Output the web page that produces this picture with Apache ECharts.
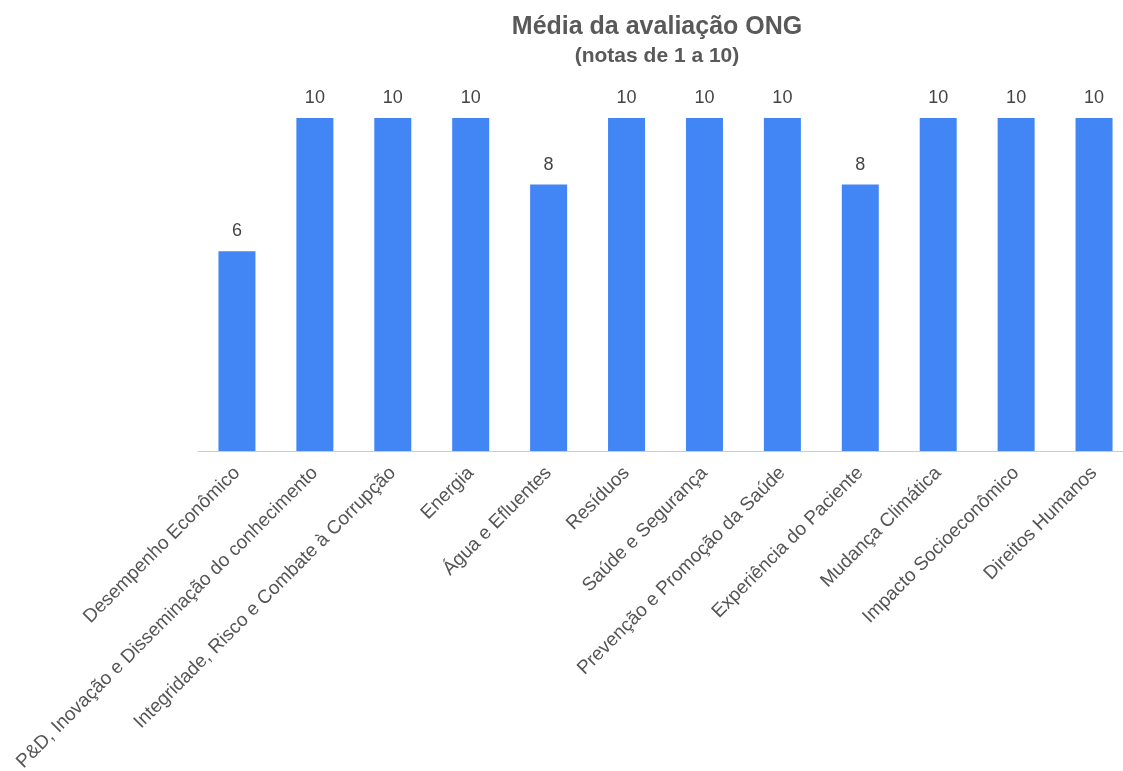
<!DOCTYPE html>
<html><head><meta charset="utf-8">
<script src="https://cdn.jsdelivr.net/npm/echarts@6/dist/echarts.min.js"></script>
<style>html,body{margin:0;padding:0;background:#fff}#c{width:1123px;height:771px}</style>
</head><body><div id="c"></div>
<script>
const categories = ["Desempenho Econômico","P&D, Inovação e Disseminação do conhecimento","Integridade, Risco e Combate à Corrupção","Energia","Água e Efluentes","Resíduos","Saúde e Segurança","Prevenção e Promoção da Saúde","Experiência do Paciente","Mudança Climática","Impacto Socioeconômico","Direitos Humanos"];
const values = [6,10,10,10,8,10,10,10,8,10,10,10];
const titleText = "Média da avaliação ONG";
const subtitleText = "(notas de 1 a 10)";

const FONT = '"Liberation Sans", Arial, Helvetica, sans-serif';
const chart = echarts.init(document.getElementById('c'), null, {renderer:'canvas'});
chart.setOption({
  animation:false,
  backgroundColor:'#fff',
  textStyle:{fontFamily:FONT},
  title:{
    text:titleText, subtext:subtitleText, left:652, top:10, textAlign:'center', itemGap:6,
    textStyle:{fontSize:25, fontWeight:'bold', color:'#595959', fontFamily:FONT},
    subtextStyle:{fontSize:21, fontWeight:'bold', color:'#595959', fontFamily:FONT}
  },
  grid:{left:198, top:118, width:935, height:333, containLabel:false, outerBoundsMode:'none'},
  xAxis:{
    type:'category', data:categories,
    axisLine:{show:true, lineStyle:{color:'#cccccc', width:1}},
    axisTick:{show:false},
    axisLabel:{rotate:45, interval:0, margin:19, fontSize:19, color:'#555555', fontFamily:FONT}
  },
  yAxis:{type:'value', min:0, max:10, show:false, splitLine:{show:false}},
  series:[{
    type:'bar', data:values, barWidth:37,
    itemStyle:{color:'#4285f4'},
    label:{show:true, position:'top', distance:11, fontSize:18, color:'#444444', fontFamily:FONT}
  }]
});
</script></body></html>
